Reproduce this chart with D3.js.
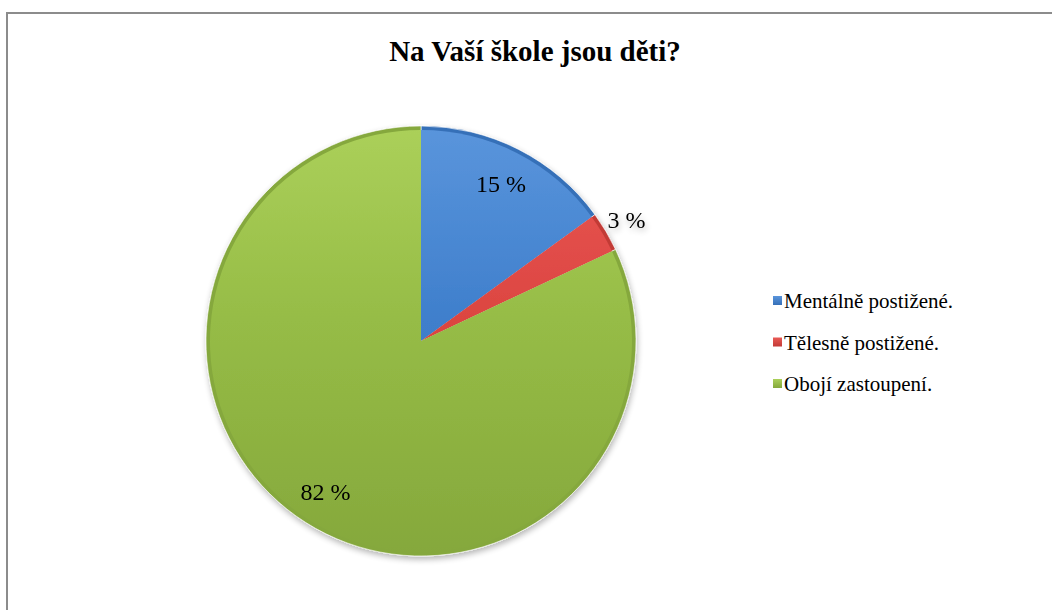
<!DOCTYPE html>
<html>
<head>
<meta charset="utf-8">
<script src="https://cdn.jsdelivr.net/npm/d3@7"></script>
<style>
  body { margin: 0; background: #fff; }
  text { font-family: "Liberation Serif", "Times New Roman", serif; }
</style>
</head>
<body>
<div id="chart"></div>
<script>
var categories = ["Mentálně postižené.", "Tělesně postižené.", "Obojí zastoupení."];
var values = [15, 3, 82];
var labels = ["15 %", "3 %", "82 %"];
var colors = ["#3f7fcc", "#dc4541", "#96bc46"];
var darkColors = ["#3670b8", "#c23a36", "#85a83c"];
var lightColors = ["#5a95dc", "#ea5a55", "#abd05a"];

var width = 1052, height = 610;
var cx = 421, cy = 341, radius = 215;

var svg = d3.select("#chart")
    .append("svg")
    .attr("width", width)
    .attr("height", height);

// chart border
svg.append("rect")
    .attr("x", 7).attr("y", 13)
    .attr("width", width + 20).attr("height", height + 20)
    .attr("fill", "#fff")
    .attr("stroke", "#8c8c8c")
    .attr("stroke-width", 2);

var defs = svg.append("defs");
colors.forEach(function (c, i) {
    var g = defs.append("linearGradient")
        .attr("id", "grad" + i)
        .attr("gradientUnits", "userSpaceOnUse")
        .attr("x1", 0).attr("y1", -radius).attr("x2", 0).attr("y2", radius);
    g.append("stop").attr("offset", "0%").attr("stop-color", lightColors[i]);
    g.append("stop").attr("offset", "45%").attr("stop-color", c);
    g.append("stop").attr("offset", "100%").attr("stop-color", darkColors[i]);

    var lg = defs.append("linearGradient")
        .attr("id", "lgrad" + i)
        .attr("x1", 0).attr("y1", 0).attr("x2", 0).attr("y2", 1);
    lg.append("stop").attr("offset", "0%").attr("stop-color", lightColors[i]);
    lg.append("stop").attr("offset", "100%").attr("stop-color", darkColors[i]);
});

var filter = defs.append("filter").attr("id", "shadow")
    .attr("x", "-10%").attr("y", "-10%").attr("width", "120%").attr("height", "120%");
filter.append("feGaussianBlur").attr("in", "SourceAlpha").attr("stdDeviation", 3);
filter.append("feOffset").attr("dx", 1).attr("dy", 3).attr("result", "b");
filter.append("feComponentTransfer").append("feFuncA").attr("type", "linear").attr("slope", 0.3);
var merge = filter.append("feMerge");
merge.append("feMergeNode");
merge.append("feMergeNode").attr("in", "SourceGraphic");

svg.append("text")
    .attr("x", 535).attr("y", 61)
    .attr("text-anchor", "middle")
    .attr("font-size", 29)
    .attr("font-weight", "bold")
    .text("Na Vaší škole jsou děti?");

var pie = d3.pie().sort(null)(values);
var arc = d3.arc().innerRadius(0).outerRadius(radius);
var innerArc = d3.arc().innerRadius(0).outerRadius(radius - 4);

var g = svg.append("g")
    .attr("transform", "translate(" + cx + "," + cy + ")")
    .attr("filter", "url(#shadow)");

g.selectAll("path.slice")
    .data(pie)
    .join("path")
    .attr("class", "slice")
    .attr("d", arc)
    .attr("fill", (d, i) => darkColors[i])
    .attr("stroke", "#fff")
    .attr("stroke-opacity", 0.6)
    .attr("stroke-width", 1);

g.selectAll("path.inner")
    .data(pie)
    .join("path")
    .attr("class", "inner")
    .attr("d", innerArc)
    .attr("fill", (d, i) => "url(#grad" + i + ")");

// labels
var labelR = [0.82, 1.11, 0.83];
g.selectAll("text.lbl")
    .data(pie)
    .join("text")
    .attr("class", "lbl")
    .attr("font-size", 24)
    .attr("text-anchor", "middle")
    .attr("dy", "0.35em")
    .attr("x", (d, i) => Math.sin((d.startAngle + d.endAngle) / 2) * radius * labelR[i])
    .attr("y", (d, i) => -Math.cos((d.startAngle + d.endAngle) / 2) * radius * labelR[i])
    .text((d, i) => labels[i]);

// legend
var legend = svg.append("g").attr("transform", "translate(773,301)");
var item = legend.selectAll("g")
    .data(categories)
    .join("g")
    .attr("transform", (d, i) => "translate(0," + i * 41.5 + ")");
item.append("rect")
    .attr("x", 0).attr("y", -5)
    .attr("width", 9).attr("height", 9)
    .attr("fill", (d, i) => "url(#lgrad" + i + ")");
item.append("text")
    .attr("x", 11).attr("y", 0)
    .attr("dy", "0.35em")
    .attr("font-size", 21)
    .text(d => d);
</script>
</body>
</html>
